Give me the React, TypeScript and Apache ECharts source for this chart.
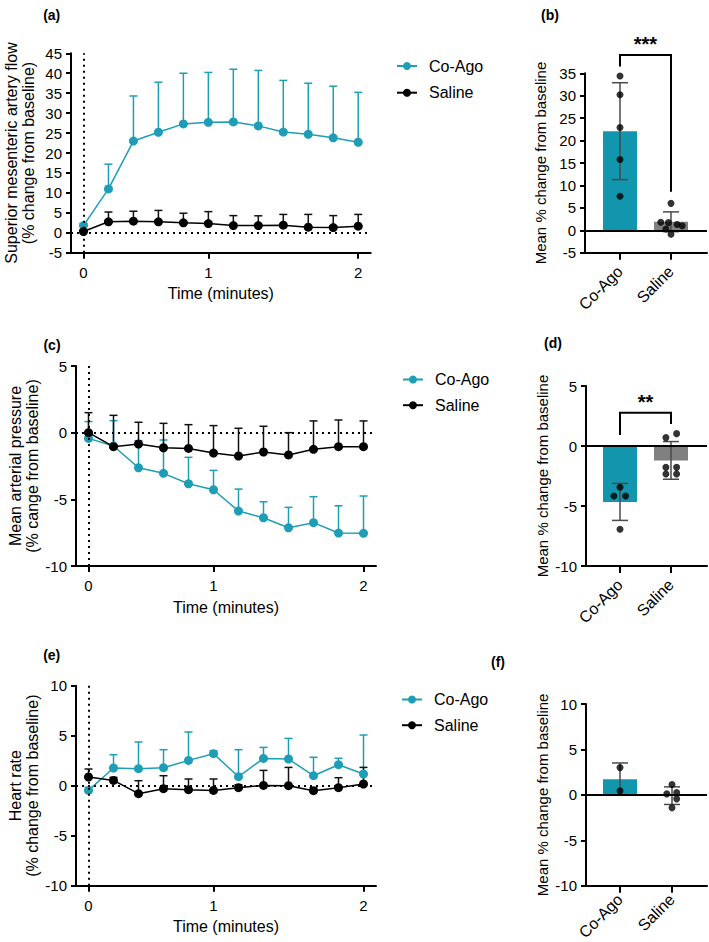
import React, { useEffect, useRef } from "react";
import * as echarts from "echarts";

// ---------- data ----------
const timeCats = ["0", "0.2", "0.4", "0.6", "0.8", "1", "1.17", "1.33", "1.5", "1.67", "1.83", "2"];
const labelledTimes = ["0", "1", "2"];

const smaCoAgo = [1.8, 11.0, 23.0, 25.2, 27.3, 27.7, 27.8, 26.8, 25.25, 24.7, 23.8, 22.7];
const smaCoAgoSem = [0.5, 6.2, 11.3, 12.55, 12.7, 12.5, 13.2, 13.9, 12.95, 12.8, 12.95, 12.5];
const smaSaline = [0.3, 2.75, 2.9, 2.75, 2.5, 2.3, 1.8, 1.8, 1.9, 1.4, 1.3, 1.65];
const smaSalineSem = [0.3, 2.45, 2.5, 2.85, 2.4, 3.0, 2.5, 2.45, 2.7, 3.2, 3.0, 2.95];

const mapCoAgo = [-0.43, -1.0, -2.63, -3.05, -3.83, -4.28, -5.88, -6.38, -7.13, -6.75, -7.53, -7.55];
const mapCoAgoSem = [1.26, 1.9, 2.03, 2.5, 1.98, 1.45, 1.65, 1.2, 1.53, 1.95, 2.05, 2.8];
const mapSaline = [0, -1.05, -0.85, -1.13, -1.18, -1.53, -1.75, -1.45, -1.67, -1.25, -1.05, -1.05];
const mapSalineSem = [1.5, 2.35, 1.63, 1.83, 1.78, 2.06, 2.08, 1.93, 1.67, 2.13, 2.0, 1.93];

const hrCoAgo = [-0.47, 1.77, 1.7, 1.8, 2.53, 3.2, 0.9, 2.73, 2.67, 1.0, 2.1, 1.17];
const hrCoAgoSem = [0.3, 1.33, 2.67, 1.8, 2.84, 0.3, 2.7, 1.1, 2.06, 1.84, 0.64, 3.9];
const hrSaline = [0.87, 0.53, -0.8, -0.3, -0.4, -0.47, -0.2, 0.03, 0, -0.5, -0.2, 0.17];
const hrSalineSem = [0.8, 0.3, 1.3, 1.3, 1.07, 1.14, 0.3, 1.5, 1.83, 0.3, 1.0, 1.66];

const barCats = ["Co-Ago", "Saline"];

const smaBarMean = [22.1, 1.9];
const smaBarSd = [10.8, 2.2];
const smaDotsCoAgo = [[0, 34.4], [0, 30.2], [0, 22.9], [0, 15.8], [0, 7.6]];
const smaDotsSaline = [[0, 6.0], [-0.2, 1.8], [-0.05, 1.7], [0.12, 1.3], [0.22, 1.0], [-0.1, 0.3], [0, -0.9]];
const smaBracket = [39.1, 36.5, 8.6];
const smaSig = "***";

const mapBarMean = [-4.66, -1.2];
const mapBarSd = [1.54, 1.57];
const mapDotsCoAgo = [[0, -3.44], [-0.12, -4.17], [0.11, -4.17], [0, -6.94]];
const mapDotsSaline = [[-0.1, 0.7], [0.11, 1.03], [-0.1, -1.78], [0.11, -1.78], [-0.1, -2.33], [0.11, -2.33]];
const mapBracket = [2.78, 0.92, 1.83];
const mapSig = "**";

const hrBarMean = [1.73, -0.09];
const hrBarSd = [1.78, 0.97];
const hrDotsCoAgo = [[0, 3.0], [0, 0.44]];
const hrDotsSaline = [[0, 1.14], [-0.1, 0.11], [0.09, 0.26], [0.09, -0.44], [0, -1.43]];

// ---------- styles ----------
const FONT = "'Liberation Sans', Arial, Helvetica, sans-serif";
const TEAL = "#1e9eb6";
const TEAL_BAR = "#1196ae";
const GREY_BAR = "#808080";
const BLACK = "#000";
const AXIS_LINE = { color: BLACK, width: 2 };

function lineXAxis(gridIndex: number) {
  const show = (i: number) => labelledTimes.includes(timeCats[i]);
  return {
    type: "category",
    gridIndex,
    data: timeCats,
    boundaryGap: true,
    axisLine: { show: true, onZero: false, lineStyle: AXIS_LINE },
    axisTick: { show: true, alignWithLabel: true, interval: (i: number) => show(i), length: 6, lineStyle: AXIS_LINE },
    axisLabel: { interval: (i: number) => show(i), color: BLACK, fontSize: 15, margin: 12, fontFamily: FONT },
    splitLine: { show: false },
    name: "Time (minutes)",
    nameLocation: "middle",
    nameGap: 33,
    nameTextStyle: { fontSize: 16, color: BLACK, fontFamily: FONT },
  };
}

function valueYAxis(gridIndex: number, min: number, max: number, name: string, nameSize: number, nameGap: number) {
  return {
    type: "value",
    gridIndex,
    min,
    max,
    interval: 5,
    axisLine: { show: true, onZero: false, lineStyle: AXIS_LINE },
    axisTick: { show: true, length: 5, lineStyle: AXIS_LINE },
    axisLabel: { color: BLACK, fontSize: 15, margin: 9, fontFamily: FONT },
    splitLine: { show: false },
    name,
    nameLocation: "middle",
    nameRotate: 90,
    nameGap,
    nameTextStyle: { fontSize: nameSize, lineHeight: 17, color: BLACK, fontFamily: FONT },
  };
}

function barXAxis(gridIndex: number, min: number, max: number, margin: number) {
  return {
    type: "value",
    gridIndex,
    min,
    max,
    axisLine: { show: true, onZero: false, lineStyle: AXIS_LINE },
    axisTick: { show: true, customValues: [0, 1], length: 7, lineStyle: AXIS_LINE },
    axisLabel: {
      customValues: [0, 1],
      formatter: (v: number) => barCats[Math.round(v)] ?? "",
      rotate: 45,
      color: BLACK,
      fontSize: 16,
      margin,
      fontFamily: FONT,
    },
    splitLine: { show: false },
  };
}

function errRender(capHalf: number, color: string, both: boolean) {
  return (params: any, api: any) => {
    const x = api.value(0);
    const m = api.value(1);
    const e = api.value(2);
    const top = api.coord([x, m + e]);
    const mid = api.coord([x, m]);
    const bot = both ? api.coord([x, m - e]) : mid;
    const style = { stroke: color, lineWidth: 1.5, fill: "none" };
    const children: any[] = [
      { type: "line", shape: { x1: top[0], y1: top[1], x2: bot[0], y2: bot[1] }, style },
      { type: "line", shape: { x1: top[0] - capHalf, y1: top[1], x2: top[0] + capHalf, y2: top[1] }, style },
    ];
    if (both) {
      children.push({ type: "line", shape: { x1: bot[0] - capHalf, y1: bot[1], x2: bot[0] + capHalf, y2: bot[1] }, style });
    }
    return { type: "group", children };
  };
}

function lineSeries(gridIndex: number, coAgo: number[], coAgoSem: number[], saline: number[], salineSem: number[]) {
  const base = { xAxisIndex: gridIndex, yAxisIndex: gridIndex };
  return [
    {
      ...base,
      type: "custom",
      name: "Co-Ago SEM",
      z: 1,
      renderItem: errRender(4, TEAL, false),
      encode: { x: 0, y: 1 },
      data: coAgo.map((v, i) => [i, v, coAgoSem[i]]),
    },
    {
      ...base,
      type: "custom",
      name: "Saline SEM",
      z: 1,
      renderItem: errRender(4, "#111", false),
      encode: { x: 0, y: 1 },
      data: saline.map((v, i) => [i, v, salineSem[i]]),
    },
    {
      ...base,
      type: "line",
      name: "Co-Ago",
      z: 2,
      data: coAgo,
      symbol: "circle",
      symbolSize: 9,
      showAllSymbol: true,
      lineStyle: { color: TEAL, width: 1.5 },
      itemStyle: { color: TEAL },
      markLine: {
        silent: true,
        symbol: ["none", "none"],
        label: { show: false },
        lineStyle: { type: [2, 4], color: BLACK, width: 2 },
        data: [{ xAxis: 0 }, { yAxis: 0 }],
      },
    },
    {
      ...base,
      type: "line",
      name: "Saline",
      z: 3,
      data: saline,
      symbol: "circle",
      symbolSize: 9,
      showAllSymbol: true,
      lineStyle: { color: BLACK, width: 1.5 },
      itemStyle: { color: BLACK },
    },
  ];
}

function bracketRender(sig: string) {
  return (params: any, api: any) => {
    const yTop = api.value(1);
    const yL = api.value(2);
    const yR = api.value(3);
    const l0 = api.coord([0, yL]);
    const l1 = api.coord([0, yTop]);
    const r1 = api.coord([1, yTop]);
    const r0 = api.coord([1, yR]);
    return {
      type: "group",
      children: [
        {
          type: "polyline",
          shape: { points: [l0, l1, r1, r0] },
          style: { stroke: BLACK, lineWidth: 2, fill: "none" },
        },
        {
          type: "text",
          style: {
            text: sig,
            x: (l1[0] + r1[0]) / 2,
            y: l1[1] - 1,
            align: "center",
            verticalAlign: "bottom",
            fill: BLACK,
            fontSize: 20,
            fontWeight: "bold",
            fontFamily: FONT,
          },
        },
      ],
    };
  };
}

function barSeries(
  gridIndex: number,
  means: number[],
  sds: number[],
  dotsA: number[][],
  dotsB: number[][],
  bracket: number[] | null,
  sig: string
) {
  const base = { xAxisIndex: gridIndex, yAxisIndex: gridIndex };
  const out: any[] = [
    {
      ...base,
      type: "bar",
      name: "mean " + gridIndex,
      barWidth: 34,
      z: 2,
      data: means.map((m, i) => ({
        value: [i, m],
        itemStyle: { color: i === 0 ? TEAL_BAR : GREY_BAR },
      })),
      markLine: {
        silent: true,
        symbol: ["none", "none"],
        label: { show: false },
        lineStyle: { type: "solid", color: BLACK, width: 2 },
        data: [{ yAxis: 0 }],
      },
    },
    {
      ...base,
      type: "custom",
      name: "sd " + gridIndex,
      z: 3,
      renderItem: errRender(8, "#4a4a4a", true),
      encode: { x: 0, y: 1 },
      data: means.map((m, i) => [i, m, sds[i]]),
    },
    {
      ...base,
      type: "scatter",
      name: "dots " + gridIndex,
      z: 4,
      symbol: "circle",
      symbolSize: 7,
      itemStyle: { color: BLACK },
      data: [
        ...dotsA.map((d) => [0 + d[0], d[1]]),
        ...dotsB.map((d) => [1 + d[0], d[1]]),
      ],
    },
  ];
  if (bracket) {
    out.push({
      ...base,
      type: "custom",
      name: "sig " + gridIndex,
      z: 5,
      clip: false,
      renderItem: bracketRender(sig),
      encode: { x: 0, y: 1 },
      data: [[0, bracket[0], bracket[1], bracket[2]]],
    });
  }
  return out;
}

function legend(left: number, top: number, gap: number) {
  return {
    orient: "vertical",
    left,
    top,
    itemWidth: 20,
    itemHeight: 10,
    itemGap: gap,
    selectedMode: false,
    data: ["Co-Ago", "Saline"],
    textStyle: { fontSize: 16, color: BLACK, fontFamily: FONT, padding: [0, 0, 0, 7] },
  };
}

function panelLabel(text: string, x: number, y: number) {
  return {
    type: "text",
    x,
    y,
    style: {
      text,
      x: 0,
      y: 0,
      align: "center",
      verticalAlign: "middle",
      fill: BLACK,
      fontSize: 14,
      fontWeight: "bold",
      fontFamily: FONT,
    },
  };
}

export default function App() {
  const ref = useRef<HTMLDivElement>(null);
  useEffect(() => {
    document.body.style.margin = "0";
    if (!ref.current) return;
    const chart = echarts.init(ref.current, null, { renderer: "svg" });
    const grids = [
      { left: 71, top: 53.3, width: 299.7, height: 199.4 },
      { left: 585, top: 73.3, width: 122, height: 179.4 },
      { left: 76, top: 366, width: 300, height: 200 },
      { left: 586, top: 386, width: 121, height: 180 },
      { left: 76, top: 685.7, width: 300, height: 200 },
      { left: 586, top: 704, width: 121, height: 181.7 },
    ].map((g) => ({ ...g, containLabel: false, outerBoundsMode: "none", show: false }));

    const option: any = {
      animation: false,
      backgroundColor: "#fff",
      textStyle: { fontFamily: FONT },
      grid: grids,
      xAxis: [
        lineXAxis(0),
        barXAxis(1, -0.686, 1.706, 16),
        lineXAxis(2),
        barXAxis(3, -0.667, 1.706, 16),
        lineXAxis(4),
        barXAxis(5, -0.654, 1.673, 11),
      ],
      yAxis: [
        valueYAxis(0, -5, 45, "Superior mesenteric artery flow\n(% change from baseline)", 16, 34),
        valueYAxis(1, -5, 35, "Mean % change from baseline", 15, 36),
        valueYAxis(2, -10, 5, "Mean arterial pressure\n(% cange from baseline)", 16, 34),
        valueYAxis(3, -10, 5, "Mean % change from baseline", 15, 34),
        valueYAxis(4, -10, 10, "Heart rate\n(% change from baseline)", 16, 34),
        valueYAxis(5, -10, 10, "Mean % change from baseline", 15, 34),
      ],
      legend: [legend(391, 53, 10.7), legend(397, 366.5, 9.7), legend(396, 686.5, 9.7)],
      graphic: [
        panelLabel("(a)", 51.7, 15),
        panelLabel("(b)", 550, 15),
        panelLabel("(c)", 52, 345),
        panelLabel("(d)", 553, 343),
        panelLabel("(e)", 51.7, 655),
        panelLabel("(f)", 498, 662),
      ],
      series: [
        ...lineSeries(0, smaCoAgo, smaCoAgoSem, smaSaline, smaSalineSem),
        ...lineSeries(2, mapCoAgo, mapCoAgoSem, mapSaline, mapSalineSem),
        ...lineSeries(4, hrCoAgo, hrCoAgoSem, hrSaline, hrSalineSem),
        ...barSeries(1, smaBarMean, smaBarSd, smaDotsCoAgo, smaDotsSaline, smaBracket, smaSig),
        ...barSeries(3, mapBarMean, mapBarSd, mapDotsCoAgo, mapDotsSaline, mapBracket, mapSig),
        ...barSeries(5, hrBarMean, hrBarSd, hrDotsCoAgo, hrDotsSaline, null, ""),
      ],
    };
    chart.setOption(option);
    return () => chart.dispose();
  }, []);
  return <div ref={ref} style={{ width: 709, height: 942 }} />;
}
